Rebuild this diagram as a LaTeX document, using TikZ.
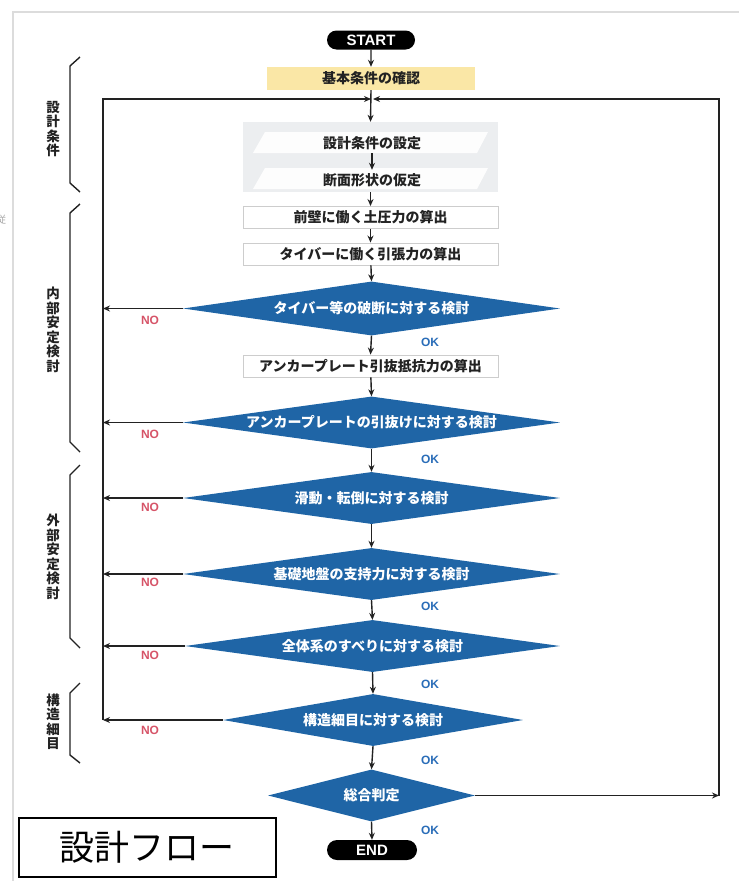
\documentclass[tikz,border=0pt]{standalone}
\usepackage{fontspec}
\setmainfont{Liberation Sans}
\newfontfamily\jp{Noto Sans CJK JP}
\usetikzlibrary{arrows.meta,shapes.geometric,shapes.misc}
\definecolor{dblue}{HTML}{1F65A6}
\definecolor{okblue}{HTML}{2A6DB8}
\definecolor{nored}{HTML}{D65468}
\definecolor{ylw}{HTML}{FAE7A6}
\definecolor{gbg}{HTML}{ECEEF0}
\definecolor{bord}{HTML}{CDCDCD}
\definecolor{frame}{HTML}{DCDCDC}
\definecolor{ink}{HTML}{222222}
\begin{document}
\begin{tikzpicture}[x=1pt,y=-1pt,
  arr/.style={draw=ink,line width=1.4pt,-{Stealth[length=7pt,width=6pt]}},
  loopline/.style={draw=ink,line width=1.5pt},
  pill/.style={rounded rectangle,fill=black,text=white,font=\fontsize{15}{15}\selectfont\bfseries,inner sep=0pt},
  procbox/.style={draw=bord,line width=0.9pt,fill=white,minimum width=255pt,minimum height=22pt,inner sep=0pt,font=\jp\bfseries\fontsize{14}{14}\selectfont,text=ink},
  stripetext/.style={minimum height=20pt,inner sep=0pt,font=\jp\bfseries\fontsize{14}{14}\selectfont,text=ink},
  dia/.style={diamond,fill=dblue,draw=none,inner sep=0pt},
  dtext/.style={text=white,inner sep=0pt,font=\jp\bfseries\fontsize{14}{14}\selectfont},
  oklab/.style={text=okblue,font=\fontsize{12}{12}\selectfont\bfseries,inner sep=0pt},
  nolab/.style={text=nored,font=\fontsize{12}{12}\selectfont\bfseries,inner sep=0pt},
  brk/.style={draw=ink,line width=1.4pt},
  sidetext/.style={text=ink,align=center,inner sep=0pt,font=\jp\bfseries\fontsize{13.5}{14.5}\selectfont}
]
\useasboundingbox (0,0) rectangle (739,881);
% page frame
\draw[frame,line width=2pt] (739,12) -- (13,12) -- (13,881);
\node[text=gray!70,font=\jp\fontsize{10}{10}\selectfont,inner sep=0pt] (stray) at (1,220) {従};

% title box
\node[draw=black,line width=2pt,minimum width=257pt,minimum height=59pt,inner sep=0pt,
      font=\jp\fontsize{35}{35}\selectfont] (title) at (147,847) {設計フロー};

% side brackets
\draw[brk] (80,57) -- (70,66) -- (70,183) -- (80,192);
\draw[brk] (80,204) -- (70,213) -- (70,442) -- (80,452);
\draw[brk] (80,465) -- (70,475) -- (70,638) -- (80,648);
\draw[brk] (80,683) -- (70,693) -- (70,755) -- (80,763);
\node[sidetext] (g1) at (53,129) {設\\計\\条\\件};
\node[sidetext] (g2) at (53,330) {内\\部\\安\\定\\検\\討};
\node[sidetext] (g3) at (53,557) {外\\部\\安\\定\\検\\討};
\node[sidetext] (g4) at (53,722) {構\\造\\細\\目};

% start and basic conditions
\node[pill,minimum width=88pt,minimum height=19pt] (st) at (371,40) {START};
\node[fill=ylw,minimum width=208pt,minimum height=23pt,inner sep=0pt,text=ink,font=\jp\bfseries\fontsize{14}{14}\selectfont] (base) at (371,78.5) {基本条件の確認};

% grey block with two stripes
\node[fill=gbg,minimum width=255pt,minimum height=70pt,inner sep=0pt] (gbox) at (370.5,157) {};
\fill[white,opacity=0.9] (265,132) -- (488,132) -- (477,153) -- (253,153) -- cycle;
\fill[white,opacity=0.9] (265,168) -- (488,168) -- (477,189) -- (253,189) -- cycle;
\node[stripetext] (s1) at (372,143) {設計条件の設定};
\node[stripetext] (s2) at (372,180) {断面形状の仮定};

% process boxes
\node[procbox] (b1) at (370.5,217.5) {前壁に働く土圧力の算出};
\node[procbox] (b2) at (370.5,254) {タイバーに働く引張力の算出};
\node[procbox] (b3) at (370.5,366) {アンカープレート引抜抵抗力の算出};

% diamonds
\node[dia,minimum width=377pt,minimum height=54pt] (d1) at (371.5,308.5) {};
\node[dtext] (d1t) at (d1.center) {タイバー等の破断に対する検討};
\node[dia,minimum width=377pt,minimum height=52pt] (d2) at (371.5,422.5) {};
\node[dtext] (d2t) at (d2.center) {アンカープレートの引抜けに対する検討};
\node[dia,minimum width=377pt,minimum height=52pt] (d3) at (371.5,498) {};
\node[dtext] (d3t) at (d3.center) {滑動・転倒に対する検討};
\node[dia,minimum width=377pt,minimum height=52pt] (d4) at (371.5,574) {};
\node[dtext] (d4t) at (d4.center) {基礎地盤の支持力に対する検討};
\node[dia,minimum width=375pt,minimum height=52pt] (d5) at (372.5,646) {};
\node[dtext] (d5t) at (d5.center) {全体系のすべりに対する検討};
\node[dia,minimum width=300pt,minimum height=52pt] (d6) at (373,720) {};
\node[dtext] (d6t) at (d6.center) {構造細目に対する検討};
\node[dia,minimum width=207pt,minimum height=52pt] (d7) at (371.5,795.5) {};
\node[dtext] (d7t) at (d7.center) {総合判定};

\node[pill,minimum width=90pt,minimum height=20pt] (en) at (372,850) {END};

% loop coordinates
\coordinate (j) at (372,99);
\coordinate (ltop) at (103,99);
\coordinate (lbot) at (103,720);
\coordinate (rtop) at (719,99);
\coordinate (rbot) at (719,795.5);

% main flow arrows
\draw[arr] (st) -- (base);
\draw[arr] (base.south) -- (gbox.north);
\draw[arr] (s1.south) -- (s2.north);
\draw[arr] (gbox.south) -- (b1.north);
\draw[arr] (b1) -- (b2);
\draw[arr] (b2) -- (d1.north);
\draw[arr] (d1.south) -- (b3.north);
\draw[arr] (b3) -- (d2.north);
\draw[arr] (d2.south) -- (d3.north);
\draw[arr] (d3.south) -- (d4.north);
\draw[arr] (d4.south) -- (d5.north);
\draw[arr] (d5.south) -- (d6.north);
\draw[arr] (d6.south) -- (d7.north);
\draw[arr] (d7.south) -- (en.north);

% loops
\draw[loopline,arr,shorten >=1pt] (lbot) -- (ltop) -- (j);
\draw[loopline,arr,shorten >=1pt] (rbot) -- (rtop) -- (j);
\draw[arr] (d7.east) -- (rbot);
\foreach \d in {d1,d2,d3,d4,d5,d6}{
  \draw[arr] (\d.west) -- (\d.west -| lbot);
}

% labels
\node[nolab] (n1) at (150,320) {NO};
\node[nolab] (n2) at (150,434) {NO};
\node[nolab] (n3) at (150,507) {NO};
\node[nolab] (n4) at (150,582) {NO};
\node[nolab] (n5) at (150,655) {NO};
\node[nolab] (n6) at (150,730) {NO};
\node[oklab] (o1) at (430,342) {OK};
\node[oklab] (o2) at (430,459) {OK};
\node[oklab] (o3) at (430,606) {OK};
\node[oklab] (o4) at (430,684) {OK};
\node[oklab] (o5) at (430,760) {OK};
\node[oklab] (o6) at (430,830) {OK};
\end{tikzpicture}
\end{document}
